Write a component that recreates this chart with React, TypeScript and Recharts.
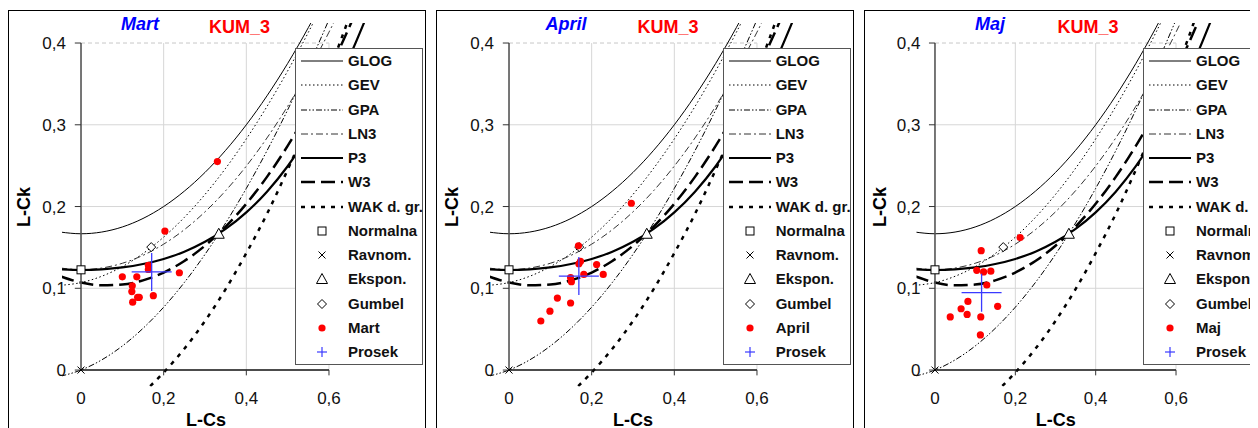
import React from 'react';
import { ComposedChart, Line, Scatter, XAxis, YAxis, ReferenceLine, Legend } from 'recharts';

// ---------- data ----------
const tauGrid = [-0.05, 0, 0.05, 0.1, 0.15, 0.2, 0.25, 0.3, 0.35, 0.4, 0.45, 0.5, 0.55, 0.6, 0.65, 0.7];
const glogCk = [0.1688, 0.1667, 0.1688, 0.175, 0.1854, 0.2, 0.2188, 0.2417, 0.2688, 0.3, 0.3354, 0.375, 0.4188, 0.4667, 0.5188, 0.575];
const gevCk = [0.1036, 0.107, 0.1147, 0.1265, 0.1425, 0.1626, 0.1867, 0.2148, 0.2468, 0.2827, 0.3224, 0.3658, 0.413, 0.4638, 0.5182, 0.5762];
const gpaCk = [-0.0076, 0, 0.0124, 0.0294, 0.051, 0.0769, 0.1071, 0.1415, 0.1799, 0.2222, 0.2683, 0.3182, 0.3716, 0.4286, 0.4889, 0.5526];
const ln3Ck = [0.1248, 0.1228, 0.1248, 0.1306, 0.1403, 0.154, 0.1717, 0.1935, 0.2194, 0.2495, 0.2839, 0.3226, 0.3657, 0.4133, 0.4656, 0.5226];
const p3Ck = [0.1232, 0.1224, 0.1232, 0.1255, 0.1297, 0.1359, 0.1448, 0.1569, 0.1727, 0.1929, 0.2182, 0.2493, 0.2869, 0.3314, 0.3835, 0.4435];
const w3Ck = [0.1147, 0.107, 0.1036, 0.1045, 0.1097, 0.1193, 0.1334, 0.1521, 0.1754, 0.2034, 0.2363, 0.2742, 0.3174, 0.3661, 0.4204, 0.4808];
const wakGrid = [0.15, 0.2, 0.25, 0.3, 0.35, 0.4, 0.45, 0.5, 0.55, 0.6, 0.65];
const wakCk = [-0.028, -0.003, 0.026, 0.06, 0.099, 0.143, 0.191, 0.245, 0.303, 0.365, 0.433];

const normalPt = [{ x: 0, y: 0.1226 }];
const uniformPt = [{ x: 0, y: 0 }];
const exponPt = [{ x: 0.3333, y: 0.1667 }];
const gumbelPt = [{ x: 0.1699, y: 0.1504 }];

const martCs = [0.33, 0.203, 0.1, 0.135, 0.163, 0.163, 0.238, 0.124, 0.123, 0.137, 0.141, 0.175, 0.125];
const martCk = [0.255, 0.17, 0.114, 0.114, 0.128, 0.123, 0.119, 0.103, 0.096, 0.089, 0.089, 0.091, 0.083];
const aprilCs = [0.296, 0.168, 0.173, 0.169, 0.212, 0.181, 0.228, 0.149, 0.151, 0.117, 0.149, 0.099, 0.077];
const aprilCk = [0.204, 0.152, 0.133, 0.13, 0.129, 0.117, 0.117, 0.113, 0.108, 0.088, 0.082, 0.072, 0.06];
const majCs = [0.212, 0.115, 0.104, 0.121, 0.139, 0.129, 0.082, 0.065, 0.156, 0.08, 0.038, 0.114, 0.113];
const majCk = [0.162, 0.146, 0.122, 0.12, 0.121, 0.104, 0.084, 0.075, 0.078, 0.068, 0.065, 0.065, 0.043];

const meanMart = [{ x: 0.171, y: 0.12 }];
const meanApril = [{ x: 0.169, y: 0.115 }];
const meanMaj = [{ x: 0.116, y: 0.0946 }];

const xTicks = [0, 0.2, 0.4, 0.6];
const yTicks = [0, 0.1, 0.2, 0.3, 0.4];
const stationName = 'KUM_3';

// ---------- helpers ----------
const zip = (xs: number[], ys: number[]) => xs.map((x, i) => ({ x, y: ys[i] }));
const glog = zip(tauGrid, glogCk);
const gev = zip(tauGrid, gevCk);
const gpa = zip(tauGrid, gpaCk);
const ln3 = zip(tauGrid, ln3Ck);
const p3 = zip(tauGrid, p3Ck);
const w3 = zip(tauGrid, w3Ck);
const wak = zip(wakGrid, wakCk);

const FONT = '"Liberation Sans", Arial, sans-serif';
const fmt = (v: number) => (v === 0 ? '0' : v.toFixed(1).replace('.', ','));

const lineStyles: Record<string, { w: number; dash?: string; color: string }> = {
  GLOG: { w: 1, color: '#000' },
  GEV: { w: 1, dash: '1.5 2.5', color: '#000' },
  GPA: { w: 1, dash: '6 2 1.5 2 1.5 2', color: '#000' },
  LN3: { w: 1, dash: '7 3 2 3', color: '#333' },
  P3: { w: 2.2, color: '#000' },
  W3: { w: 2.5, dash: '14 6', color: '#000' },
  'WAK d. gr.': { w: 2.5, dash: '4 6', color: '#000' },
};

const Square = (p: any) => <rect x={p.cx - 4} y={p.cy - 4} width={8} height={8} fill="#fff" stroke="#000" strokeWidth={1} />;
const XMark = (p: any) => (
  <g stroke="#000" strokeWidth={1}>
    <line x1={p.cx - 3.5} y1={p.cy - 3.5} x2={p.cx + 3.5} y2={p.cy + 3.5} />
    <line x1={p.cx - 3.5} y1={p.cy + 3.5} x2={p.cx + 3.5} y2={p.cy - 3.5} />
  </g>
);
const Tri = (p: any) => (
  <polygon points={`${p.cx},${p.cy - 5.5} ${p.cx - 5.5},${p.cy + 4.5} ${p.cx + 5.5},${p.cy + 4.5}`} fill="#fff" stroke="#000" strokeWidth={1} />
);
const Diamond = (p: any) => (
  <polygon points={`${p.cx},${p.cy - 4.5} ${p.cx + 4.5},${p.cy} ${p.cx},${p.cy + 4.5} ${p.cx - 4.5},${p.cy}`} fill="#fff" stroke="#000" strokeWidth={1} />
);
const Dot = (p: any) => <circle cx={p.cx} cy={p.cy} r={3.6} fill="#ff0000" />;
const BigPlus = (p: any) => (
  <g stroke="#3a3aff" strokeWidth={1.3}>
    <line x1={p.cx - 20} y1={p.cy} x2={p.cx + 20} y2={p.cy} />
    <line x1={p.cx} y1={p.cy - 19} x2={p.cx} y2={p.cy + 19} />
  </g>
);
const SmallPlus = (p: any) => (
  <g stroke="#3a3aff" strokeWidth={1.2}>
    <line x1={p.cx - 5} y1={p.cy} x2={p.cx + 5} y2={p.cy} />
    <line x1={p.cx} y1={p.cy - 5} x2={p.cx} y2={p.cy + 5} />
  </g>
);

const LegendBox = ({ month }: { month: string }) => {
  const lineNames = ['GLOG', 'GEV', 'GPA', 'LN3', 'P3', 'W3', 'WAK d. gr.'];
  const markerRows: [string, (p: any) => React.ReactElement][] = [
    ['Normalna', Square],
    ['Ravnom.', XMark],
    ['Ekspon.', Tri],
    ['Gumbel', Diamond],
    [month, Dot],
    ['Prosek', SmallPlus],
  ];
  const rowTop = (i: number) => 12 + i * 24.25 - 12;
  return (
    <div
      style={{
        width: 128,
        height: 317,
        border: '1px solid #555',
        background: '#fff',
        boxSizing: 'border-box',
        position: 'relative',
        fontFamily: FONT,
        fontWeight: 'bold',
        fontSize: 15,
        color: '#111',
      }}
    >
      {lineNames.map((n, i) => {
        const s = lineStyles[n];
        return (
          <div key={n} style={{ position: 'absolute', left: 0, top: rowTop(i), height: 24, width: 200 }}>
            <svg width={50} height={24} style={{ position: 'absolute', left: 0, top: 0 }}>
              <line x1={5} x2={47} y1={12} y2={12} stroke={s.color} strokeWidth={s.w} strokeDasharray={s.dash} />
            </svg>
            <span style={{ position: 'absolute', left: 52, top: 0, lineHeight: '24px', whiteSpace: 'nowrap' }}>{n}</span>
          </div>
        );
      })}
      {markerRows.map(([n, Shape], j) => {
        const i = j + lineNames.length;
        return (
          <div key={n} style={{ position: 'absolute', left: 0, top: rowTop(i), height: 24, width: 200 }}>
            <svg width={50} height={24} style={{ position: 'absolute', left: 0, top: 0 }}>
              {Shape({ cx: 26, cy: 12 })}
            </svg>
            <span style={{ position: 'absolute', left: 52, top: 0, lineHeight: '24px', whiteSpace: 'nowrap' }}>{n}</span>
          </div>
        );
      })}
    </div>
  );
};

const YTick = (p: any) => (
  <text x={p.x + 4} y={p.y} dy="0.36em" textAnchor="end" fontSize={17} fill="#111" fontFamily={FONT}>
    {fmt(p.payload.value)}
  </text>
);
const XTick = (p: any) => (
  <text x={p.x} y={p.y} dy="0.75em" textAnchor="middle" fontSize={17} fill="#111" fontFamily={FONT}>
    {fmt(p.payload.value)}
  </text>
);

type PanelProps = {
  month: string;
  cs: number[];
  ck: number[];
  mean: { x: number; y: number }[];
  left: number;
  mLeft: number;
  mRight: number;
  legendLeft: number;
  titleX: number;
  kumX: number;
  csX: number;
};

const Panel = (pp: PanelProps) => {
  const pts = zip(pp.cs, pp.ck);
  const curve = (name: string, data: any[]) => {
    const s = lineStyles[name];
    return (
      <Line
        key={name}
        name={name}
        data={data}
        dataKey="y"
        type="monotone"
        dot={false}
        activeDot={false}
        stroke={s.color}
        strokeWidth={s.w}
        strokeDasharray={s.dash}
        isAnimationActive={false}
        legendType="none"
      />
    );
  };
  return (
    <div
      style={{
        position: 'absolute',
        left: pp.left,
        top: 2,
        width: 416,
        height: 440,
        border: '1px solid #000',
        overflow: 'hidden',
        background: '#fff',
      }}
    >
      <div style={{ position: 'absolute', left: pp.titleX, top: 13, transform: 'translate(-50%,-50%)', color: '#0000ff', fontFamily: FONT, fontWeight: 'bold', fontStyle: 'italic', fontSize: 18, whiteSpace: 'nowrap' }}>
        {pp.month}
      </div>
      <div style={{ position: 'absolute', left: pp.kumX, top: 15.5, transform: 'translate(-50%,-50%)', color: '#ff0000', fontFamily: FONT, fontWeight: 'bold', fontSize: 18, whiteSpace: 'nowrap' }}>
        {stationName}
      </div>
      <div style={{ position: 'absolute', left: 15, top: 196, transform: 'translate(-50%,-50%) rotate(-90deg)', color: '#000', fontFamily: FONT, fontWeight: 'bold', fontSize: 18, whiteSpace: 'nowrap' }}>
        L-Ck
      </div>
      <div style={{ position: 'absolute', left: pp.csX, top: 409, transform: 'translate(-50%,-50%)', color: '#000', fontFamily: FONT, fontWeight: 'bold', fontSize: 18, whiteSpace: 'nowrap' }}>
        L-Cs
      </div>
      <div style={{ position: 'absolute', left: 0, top: 0 }}>
        <ComposedChart width={416} height={420} margin={{ top: 12, right: pp.mRight, bottom: 14.6, left: pp.mLeft }}>
          <XAxis
            type="number"
            dataKey="x"
            domain={[-0.046, 0.7]}
            allowDataOverflow
            ticks={xTicks}
            axisLine={false}
            tickLine={false}
            tickSize={0}
            tickMargin={5}
            height={30}
            tick={XTick}
            interval={0}
          />
          <YAxis
            type="number"
            dataKey="y"
            domain={[-0.02, 0.4245]}
            allowDataOverflow
            ticks={yTicks}
            axisLine={false}
            tickLine={false}
            tickSize={0}
            tickMargin={0}
            width={40}
            tick={YTick}
            interval={0}
          />
          {[0.1, 0.2, 0.3].map((v) => (
            <ReferenceLine key={'h' + v} segment={[{ x: 0, y: v }, { x: 0.6, y: v }]} stroke="#d6d6d6" strokeWidth={1} />
          ))}
          <ReferenceLine segment={[{ x: 0, y: 0.4 }, { x: 0.6, y: 0.4 }]} stroke="#c8c8c8" strokeWidth={1} strokeDasharray="4 3" />
          {[0.2, 0.4, 0.6].map((v) => (
            <ReferenceLine key={'v' + v} segment={[{ x: v, y: 0 }, { x: v, y: 0.4 }]} stroke="#d6d6d6" strokeWidth={1} />
          ))}
          {curve('GLOG', glog)}
          {curve('GEV', gev)}
          {curve('GPA', gpa)}
          {curve('LN3', ln3)}
          {curve('P3', p3)}
          {curve('W3', w3)}
          {curve('WAK d. gr.', wak)}
          <ReferenceLine segment={[{ x: 0, y: 0 }, { x: 0, y: 0.4 }]} stroke="#555" strokeWidth={1.6} />
          <ReferenceLine segment={[{ x: 0, y: 0 }, { x: 0.6, y: 0 }]} stroke="#111" strokeWidth={1.4} />
          {yTicks.map((v) => (
            <ReferenceLine key={'yt' + v} segment={[{ x: -0.015, y: v }, { x: 0, y: v }]} stroke="#333" strokeWidth={1} />
          ))}
          {xTicks.slice(1).map((v) => (
            <ReferenceLine key={'xt' + v} segment={[{ x: v, y: 0 }, { x: v, y: -0.0065 }]} stroke="#333" strokeWidth={1} />
          ))}
          <Scatter name="Normalna" data={normalPt} shape={Square} isAnimationActive={false} legendType="none" />
          <Scatter name="Ravnom." data={uniformPt} shape={XMark} isAnimationActive={false} legendType="none" />
          <Scatter name="Ekspon." data={exponPt} shape={Tri} isAnimationActive={false} legendType="none" />
          <Scatter name="Gumbel" data={gumbelPt} shape={Diamond} isAnimationActive={false} legendType="none" />
          <Scatter name={pp.month} data={pts} shape={Dot} isAnimationActive={false} legendType="none" />
          <Scatter name="Prosek" data={pp.mean} shape={BigPlus} isAnimationActive={false} legendType="none" />
          <Legend
            layout="vertical"
            align="center"
            verticalAlign="middle"
            content={() => <LegendBox month={pp.month} />}
            wrapperStyle={{ left: pp.legendLeft, top: 37, width: 128, height: 317, right: 'auto', bottom: 'auto' }}
          />
        </ComposedChart>
      </div>
    </div>
  );
};

export default function App() {
  return (
    <div style={{ position: 'relative', width: 1250, height: 420, overflow: 'hidden', background: '#fff' }}>
      <Panel month="Mart" cs={martCs} ck={martCk} mean={meanMart} left={0} mLeft={13} mRight={54.7} legendLeft={286} titleX={131} kumX={230.5} csX={197} />
      <Panel month="April" cs={aprilCs} ck={aprilCk} mean={meanApril} left={428} mLeft={13} mRight={54.7} legendLeft={285.7} titleX={129} kumX={231} csX={196} />
      <Panel month="Maj" cs={majCs} ck={majCk} mean={meanMaj} left={856} mLeft={11.5} mRight={64.8} legendLeft={278} titleX={125} kumX={223} csX={190.7} />
    </div>
  );
}
